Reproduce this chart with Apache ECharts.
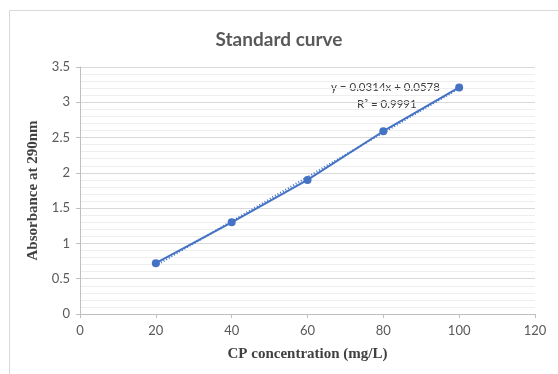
<!DOCTYPE html>
<html>
<head>
<meta charset="utf-8">
<script src="https://cdn.jsdelivr.net/npm/echarts@6/dist/echarts.min.js"></script>
<style>
  html, body { margin: 0; padding: 0; background: #fff; }
  #chart { width: 558px; height: 374px; }
</style>
</head>
<body>
<div id="chart"></div>
<script>
// measured points
const concentration = [20, 40, 60, 80, 100];
const absorbance = [0.72, 1.30, 1.90, 2.59, 3.21];

// linear trendline end points (from y = 0.0314x + 0.0578)
const trendX = [20, 100];
const trendY = [0.686, 3.198];

const equationText = 'y = 0.0314x + 0.0578';
const r2Text = 'R² = 0.9991';

const chart = echarts.init(document.getElementById('chart'));

const labelFont = 'Lato, "Open Sans", sans-serif';
const serifFont = '"Liberation Serif", "DejaVu Serif", serif';

const option = {
  animation: false,
  title: {
    text: 'Standard curve',
    left: 'center',
    top: 25,
    textStyle: { fontFamily: labelFont, fontSize: 19, fontWeight: 'bold', color: '#595959' },
  },
  graphic: [
    {
      type: 'rect',
      shape: { x: 9.5, y: 10.5, width: 560, height: 380 },
      style: { fill: 'none', stroke: '#d9d9d9', lineWidth: 1 },
      silent: true,
      z: -10,
    },
    {
      type: 'text',
      left: 331,
      top: 81,
      style: { text: equationText, font: '11.5px ' + labelFont, fill: '#404040' },
    },
    {
      type: 'text',
      left: 357,
      top: 98,
      style: { text: r2Text, font: '11.5px ' + labelFont, fill: '#404040' },
    },
  ],
  grid: { left: 80, right: 23, top: 67, bottom: 60 },
  xAxis: {
    type: 'value',
    min: 0,
    max: 120,
    interval: 20,
    name: 'CP concentration (mg/L)',
    nameLocation: 'middle',
    nameGap: 33,
    nameTextStyle: { fontFamily: serifFont, fontSize: 15, fontWeight: 'bold', color: '#404040' },
    axisLine: { lineStyle: { color: '#bfbfbf' } },
    axisTick: { show: true, length: 4, lineStyle: { color: '#bfbfbf' } },
    axisLabel: { fontFamily: labelFont, fontSize: 13, color: '#595959', margin: 10 },
    splitLine: { show: false },
  },
  yAxis: {
    type: 'value',
    min: 0,
    max: 3.5,
    interval: 0.5,
    name: 'Absorbance at 290nm',
    nameLocation: 'middle',
    nameGap: 36,
    nameTextStyle: { fontFamily: serifFont, fontSize: 15, fontWeight: 'bold', color: '#404040' },
    axisLine: { show: true, lineStyle: { color: '#bfbfbf' } },
    axisTick: { show: true, length: 4, lineStyle: { color: '#bfbfbf' } },
    axisLabel: { fontFamily: labelFont, fontSize: 13, color: '#595959', margin: 10 },
    splitLine: { show: true, lineStyle: { color: '#d9d9d9', width: 1 } },
    minorTick: { show: false, splitNumber: 5 },
    minorSplitLine: { show: true, lineStyle: { color: '#eeeeee', width: 1 } },
  },
  series: [
    {
      name: 'Trendline',
      type: 'line',
      data: trendX.map((x, i) => [x, trendY[i]]),
      symbol: 'none',
      lineStyle: { color: '#4472C4', width: 2, type: [1, 2] },
      z: 2,
    },
    {
      name: 'Absorbance',
      type: 'line',
      data: concentration.map((x, i) => [x, absorbance[i]]),
      symbol: 'circle',
      symbolSize: 8,
      itemStyle: { color: '#4472C4' },
      lineStyle: { color: '#4472C4', width: 2 },
      z: 3,
    },
  ],
};

chart.setOption(option);
</script>
</body>
</html>
